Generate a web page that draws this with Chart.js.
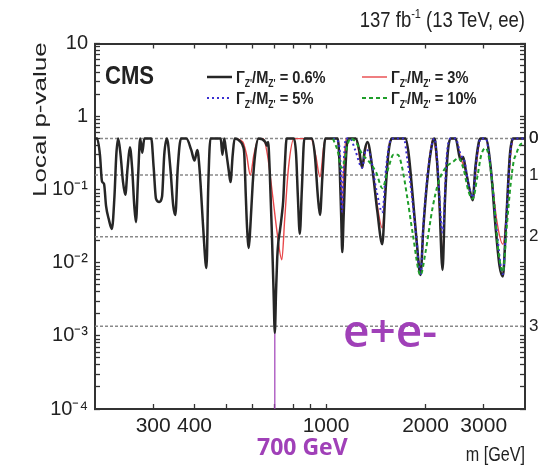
<!DOCTYPE html>
<html>
<head>
<meta charset="utf-8">
<script src="https://cdn.jsdelivr.net/npm/chart.js@4.4.0/dist/chart.umd.min.js"></script>
<style>
  html, body { margin: 0; padding: 0; background: #fff; }
  #chart { display: block; }
</style>
</head>
<body>
<canvas id="chart" width="538" height="472"></canvas>
<script>
// ========== DATA ==========
const massRange = [200, 4000];
const pRange = [1e-4, 10];

// Gamma/M = 0.6%
const w06Mass = [
  200, 203, 207, 210, 213, 216, 220, 225, 229, 232,
  235, 239, 243, 247, 251, 255, 259, 263, 266, 270,
  274, 278, 282, 296, 301, 306, 313, 319, 324, 330,
  338, 345, 350, 356, 364, 378, 391, 400, 408, 414,
  425, 432, 435, 440, 447, 480, 486, 492, 498, 508,
  514, 522, 529, 552, 560, 566, 572, 577, 584, 590,
  600, 610, 625, 655, 662, 668, 675, 685, 694, 700,
  706, 712, 718, 725, 735, 742, 750, 760, 800, 812,
  822, 833, 845, 860, 905, 925, 945, 959, 975, 995,
  1085, 1100, 1112, 1120, 1130, 1145, 1165, 1230, 1260, 1286,
  1310, 1335, 1380, 1430, 1480, 1510, 1543, 1580, 1740, 1780,
  1830, 1880, 1931, 1970, 2030, 2100, 2130, 2160, 2200, 2252,
  2290, 2340, 2382, 2466, 2555, 2600, 2650, 2720, 2779, 2830,
  2900, 2938, 3043, 3150, 3260, 3350, 3428, 3500, 3600, 3680,
  4000
];
const w06P = [
  0.5, 0.5, 0.3, 0.13, 0.12, 0.06, 0.04, 0.029, 0.08, 0.3,
  0.5, 0.3, 0.13, 0.085, 0.2, 0.38, 0.2, 0.06, 0.036, 0.15,
  0.5, 0.32, 0.5, 0.5, 0.2, 0.075, 0.068, 0.08, 0.3, 0.5,
  0.2, 0.06, 0.045, 0.2, 0.5, 0.5, 0.35, 0.25, 0.35, 0.2,
  0.03, 0.01, 0.0085, 0.1, 0.5, 0.5, 0.3, 0.5, 0.35, 0.18,
  0.127, 0.3, 0.5, 0.45, 0.4, 0.3, 0.08, 0.03, 0.016, 0.03,
  0.12, 0.3, 0.5, 0.45, 0.4, 0.45, 0.2, 0.03, 0.004, 0.0011,
  0.004, 0.012, 0.02, 0.027, 0.045, 0.07, 0.2, 0.5, 0.5, 0.3,
  0.08, 0.025, 0.1, 0.5, 0.5, 0.3, 0.08, 0.045, 0.15, 0.5,
  0.5, 0.2, 0.04, 0.014, 0.04, 0.2, 0.5, 0.5, 0.35, 0.2,
  0.35, 0.45, 0.2, 0.05, 0.018, 0.08, 0.3, 0.5, 0.5, 0.3,
  0.08, 0.02, 0.0068, 0.03, 0.15, 0.45, 0.5, 0.3, 0.08, 0.008,
  0.07, 0.35, 0.5, 0.5, 0.25, 0.28, 0.18, 0.1, 0.072, 0.2,
  0.45, 0.5, 0.5, 0.2, 0.03, 0.009, 0.0065, 0.03, 0.3, 0.5,
  0.5
];

// Gamma/M = 3%
const w3Mass = [
  529, 560, 575, 590, 605, 625, 645, 665, 690, 712,
  735, 750, 770, 800, 900, 930, 959, 985, 1000, 1085,
  1105, 1118, 1132, 1150, 1230, 1286, 1335, 1380, 1430, 1480,
  1520, 1560, 1600, 1740, 1800, 1880, 1931, 1975, 2040, 2110,
  2170, 2252, 2310, 2382, 2466, 2555, 2650, 2779, 2860, 2938,
  3043, 3150, 3280, 3428, 3520, 3620, 3700, 4000
];
const w3P = [
  0.5, 0.45, 0.3, 0.16, 0.3, 0.5, 0.5, 0.3, 0.08, 0.025,
  0.011, 0.04, 0.2, 0.5, 0.5, 0.3, 0.15, 0.4, 0.5, 0.5,
  0.2, 0.04, 0.2, 0.5, 0.5, 0.2, 0.45, 0.2, 0.06, 0.03,
  0.15, 0.45, 0.5, 0.5, 0.15, 0.02, 0.0068, 0.035, 0.2, 0.5,
  0.2, 0.015, 0.2, 0.5, 0.5, 0.27, 0.18, 0.075, 0.25, 0.5,
  0.5, 0.2, 0.04, 0.018, 0.05, 0.3, 0.5, 0.5
];

// Gamma/M = 5%
const w5Mass = [
  1050, 1090, 1105, 1118, 1132, 1150, 1183, 1225, 1286, 1320,
  1360, 1420, 1480, 1520, 1560, 1600, 1720, 1760, 1820, 1880,
  1931, 1975, 2040, 2100, 2130, 2170, 2252, 2320, 2382, 2466,
  2555, 2620, 2700, 2779, 2850, 2938, 3043, 3150, 3280, 3428,
  3520, 3620, 3700, 4000
];
const w5P = [
  0.5, 0.45, 0.25, 0.05, 0.25, 0.5, 0.5, 0.35, 0.2, 0.35,
  0.3, 0.1, 0.049, 0.2, 0.45, 0.5, 0.5, 0.27, 0.08, 0.02,
  0.0068, 0.04, 0.2, 0.45, 0.5, 0.25, 0.026, 0.3, 0.5, 0.5,
  0.3, 0.25, 0.12, 0.078, 0.25, 0.5, 0.5, 0.2, 0.03, 0.007,
  0.05, 0.35, 0.5, 0.5
];

// Gamma/M = 10%
const w10Mass = [
  1050, 1088, 1110, 1130, 1160, 1185, 1230, 1290, 1342, 1420,
  1480, 1545, 1600, 1650, 1700, 1760, 1830, 1931, 2000, 2100,
  2190, 2300, 2420, 2520, 2600, 2702, 2779, 2870, 2950, 3043,
  3100, 3200, 3320, 3428, 3520, 3620, 3700, 3754, 3850, 4000
];
const w10P = [
  0.5, 0.32, 0.2, 0.22, 0.4, 0.5, 0.45, 0.3, 0.25, 0.17,
  0.105, 0.2, 0.3, 0.3, 0.2, 0.08, 0.025, 0.0068, 0.014, 0.056,
  0.127, 0.2, 0.24, 0.27, 0.2, 0.093, 0.075, 0.15, 0.3, 0.37,
  0.3, 0.1, 0.015, 0.0075, 0.03, 0.12, 0.25, 0.3, 0.4, 0.45
];

const widthLabels = ['0.6%', '3%', '5%', '10%'];

// local significance reference lines
const sigmaP = [0.5, 0.1587, 0.02275, 0.00135];
const sigmaLabels = ['0σ', '1σ', '2σ', '3σ'];

// 700 GeV marker
const markerMass = [700, 700];
const markerP = [1e-4, 1.1e-3];

const xTickValues = [300, 400, 500, 600, 700, 800, 900, 1000, 2000, 3000];
const xTickLabels = ['300', '400', '', '', '', '', '', '1000', '2000', '3000'];
const yDecades = [1e-4, 1e-3, 1e-2, 1e-1, 1, 10];
const yDecadeLabels = ['10⁻⁴', '10⁻³', '10⁻²', '10⁻¹', '1', '10'];

// ========== HELPERS ==========
const toPoints = (xs, ys) => xs.map((x, i) => ({ x, y: ys[i] }));

const yMinorTicks = [];
yDecades.slice(0, -1).forEach(d => {
  for (let k = 2; k <= 9; k++) yMinorTicks.push(d * k);
});

const TICK_FONT = "'Liberation Sans Narrow', 'Liberation Sans', Arial, sans-serif";
const TEXT_FONT = "'Liberation Sans', Arial, sans-serif";
const INK = '#222';
const PURPLE = '#a040b8';

function drawRich(ctx, parts, x, y, opts) {
  ctx.save();
  ctx.translate(x, y);
  ctx.scale(opts.sx || 1, 1);
  ctx.textAlign = 'left';
  ctx.textBaseline = 'alphabetic';
  ctx.fillStyle = opts.color || INK;
  let w = 0;
  parts.forEach(p => { ctx.font = p[1]; w += ctx.measureText(p[0]).width; });
  let cx = opts.align === 'right' ? -w : 0;
  parts.forEach(p => {
    ctx.font = p[1];
    ctx.fillText(p[0], cx, p[2] || 0);
    cx += ctx.measureText(p[0]).width;
  });
  ctx.restore();
}

// ========== TEXT + LEGEND ==========
const annotations = {
  id: 'annotations',
  afterDraw(chart) {
    const ctx = chart.ctx;

    // header
    drawRich(ctx, [
      ['137 fb', `22px ${TEXT_FONT}`],
      ['-1', `13px ${TEXT_FONT}`, -9],
      [' (13 TeV, ee)', `22px ${TEXT_FONT}`]
    ], 525, 27, { sx: 0.84, align: 'right' });

    // y title
    ctx.save();
    ctx.translate(46, 197);
    ctx.rotate(-Math.PI / 2);
    ctx.scale(1, 0.7);
    ctx.font = `26px ${TEXT_FONT}`;
    ctx.fillStyle = INK;
    ctx.textAlign = 'left';
    ctx.textBaseline = 'alphabetic';
    ctx.fillText('Local p-value', 0, 0);
    ctx.restore();

    // x title
    drawRich(ctx, [['m [GeV]', `21px ${TEXT_FONT}`]], 525, 461, { sx: 0.77, align: 'right' });

    // CMS
    drawRich(ctx, [['CMS', `bold 26px ${TEXT_FONT}`]], 105, 84, { sx: 0.85 });

    // legend
    const slots = [[207, 77], [362, 77], [207, 98], [362, 98]];
    const main = `bold 17px ${TEXT_FONT}`;
    const sub = `bold 10px ${TEXT_FONT}`;
    chart.data.datasets.filter(ds => ds.legendIndex !== undefined).forEach(ds => {
      const [lx, ly] = slots[ds.legendIndex];
      ctx.save();
      ctx.strokeStyle = ds.borderColor;
      ctx.lineWidth = ds.borderWidth;
      ctx.setLineDash(ds.borderDash || []);
      ctx.beginPath();
      ctx.moveTo(lx, ly);
      ctx.lineTo(lx + 25, ly);
      ctx.stroke();
      ctx.restore();
      drawRich(ctx, [
        ['Γ', main], ["Z'", sub, 4], ['/M', main], ["Z'", sub, 4],
        [' = ' + ds.label, main]
      ], lx + 29, ly + 6, { sx: 0.86 });
    });

    // annotations in purple
    ctx.save();
    ctx.fillStyle = PURPLE;
    ctx.textBaseline = 'alphabetic';
    ctx.textAlign = 'left';
    ctx.font = "600 46px 'Open Sans', sans-serif";
    ctx.fillText('e+e-', 343, 347);
    ctx.font = "bold 23px 'Open Sans', sans-serif";
    ctx.fillText('700 GeV', 257, 455);
    ctx.restore();
  }
};

// ========== CHART ==========
const lineBase = { showLine: true, pointRadius: 0, fill: false, cubicInterpolationMode: 'monotone' };

const datasets = [
  { ...lineBase, label: widthLabels[3], legendIndex: 3, order: 0,
    data: toPoints(w10Mass, w10P), borderColor: '#1f9e2a', borderWidth: 2, borderDash: [4, 3] },
  { ...lineBase, label: widthLabels[2], legendIndex: 2, order: 1,
    data: toPoints(w5Mass, w5P), borderColor: '#3a2fd0', borderWidth: 2, borderDash: [2, 3] },
  { ...lineBase, label: widthLabels[0], legendIndex: 0, order: 2,
    data: toPoints(w06Mass, w06P), borderColor: '#262626', borderWidth: 2.5 },
  { ...lineBase, label: widthLabels[1], legendIndex: 1, order: 3,
    data: toPoints(w3Mass, w3P), borderColor: '#e8474a', borderWidth: 1.4 },
  { ...lineBase, label: '700 GeV', order: 4, cubicInterpolationMode: 'default', tension: 0,
    data: toPoints(markerMass, markerP), borderColor: PURPLE, borderWidth: 1.2 }
];
sigmaP.forEach((p, i) => {
  datasets.push({ ...lineBase, label: sigmaLabels[i], order: 5, cubicInterpolationMode: 'default',
    data: toPoints(massRange, [p, p]), borderColor: '#8a8a8a', borderWidth: 1.5, borderDash: [3, 2] });
});

const frame = { display: true, color: '#333', width: 2 };
const tickGrid = { drawOnChartArea: false, drawTicks: true, tickLength: -5, tickColor: '#333', tickWidth: 1.3 };

new Chart(document.getElementById('chart'), {
  type: 'line',
  data: { datasets },
  options: {
    responsive: false,
    devicePixelRatio: 1,
    animation: false,
    layout: { padding: 0 },
    plugins: { legend: { display: false }, tooltip: { enabled: false }, title: { display: false } },
    scales: {
      x: {
        type: 'logarithmic', position: 'bottom', min: massRange[0], max: massRange[1],
        border: frame, grid: tickGrid,
        afterBuildTicks: s => { s.ticks = xTickValues.map(v => ({ value: v })); },
        afterFit: s => { s.height = 63; },
        ticks: {
          autoSkip: false, maxRotation: 0, padding: 10, color: INK,
          font: { family: TICK_FONT, size: 21 },
          callback: v => xTickLabels[xTickValues.indexOf(v)] || ''
        }
      },
      x2: {
        type: 'logarithmic', position: 'top', min: massRange[0], max: massRange[1],
        border: frame, grid: tickGrid,
        afterBuildTicks: s => { s.ticks = xTickValues.map(v => ({ value: v })); },
        afterFit: s => { s.height = 43.5; },
        ticks: { display: false }
      },
      y: {
        type: 'logarithmic', position: 'left', min: pRange[0], max: pRange[1],
        border: frame, grid: tickGrid,
        afterBuildTicks: s => {
          s.ticks = yDecades.concat(yMinorTicks).sort((a, b) => a - b).map(v => ({ value: v }));
        },
        afterFit: s => { s.width = 95; },
        ticks: {
          autoSkip: false, padding: 12, color: INK,
          font: { family: TICK_FONT, size: 20 },
          callback: v => {
            const i = yDecades.findIndex(d => Math.abs(d - v) / d < 1e-6);
            return i >= 0 ? yDecadeLabels[i] : '';
          }
        }
      },
      y2: {
        type: 'logarithmic', position: 'right', min: pRange[0], max: pRange[1],
        border: frame, grid: tickGrid,
        afterBuildTicks: s => {
          s.ticks = yDecades.concat(yMinorTicks).sort((a, b) => a - b).map(v => ({ value: v }));
          sigmaP.forEach(p => s.ticks.push({ value: p }));
          s.ticks.sort((a, b) => a.value - b.value);
        },
        afterFit: s => { s.width = 13; },
        ticks: {
          autoSkip: false, padding: 9, color: INK,
          font: { family: TICK_FONT, size: 17 },
          callback: v => {
            const i = sigmaP.findIndex(p => Math.abs(p - v) / p < 1e-6);
            return i >= 0 ? sigmaLabels[i] : '';
          }
        }
      }
    }
  },
  plugins: [annotations]
});
</script>
</body>
</html>
